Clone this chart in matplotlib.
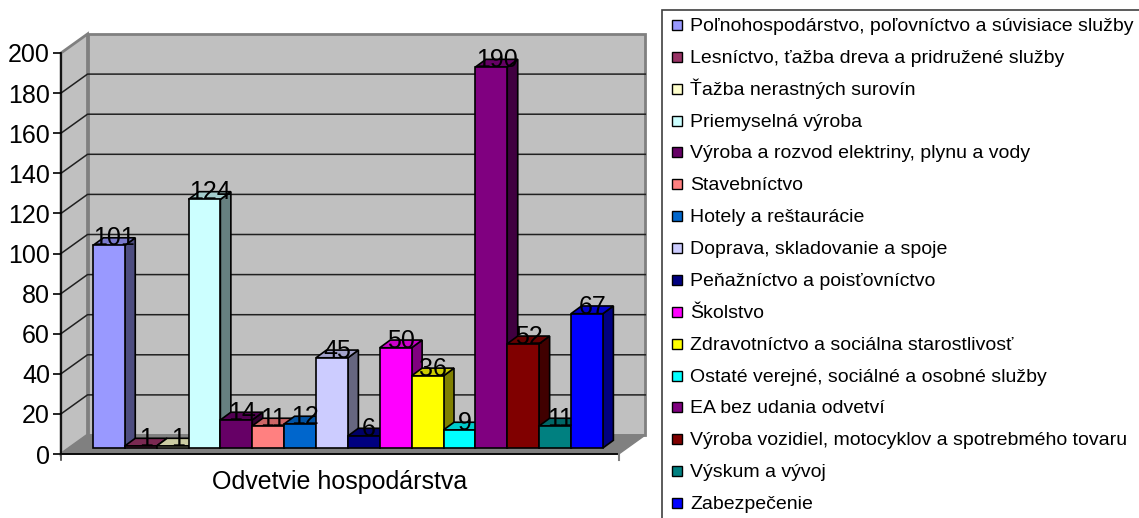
import matplotlib
matplotlib.use("Agg")
import matplotlib.pyplot as plt
from matplotlib.patches import Polygon, Rectangle
from matplotlib.colors import to_rgb

plt.rcParams['font.family'] = ['Liberation Sans', 'DejaVu Sans']

# ---- data ----
categories = [
    "Poľnohospodárstvo, poľovníctvo a súvisiace služby",
    "Lesníctvo, ťažba dreva a pridružené služby",
    "Ťažba nerastných surovín",
    "Priemyselná výroba",
    "Výroba a rozvod elektriny, plynu a vody",
    "Stavebníctvo",
    "Hotely a reštaurácie",
    "Doprava, skladovanie a spoje",
    "Peňažníctvo a poisťovníctvo",
    "Školstvo",
    "Zdravotníctvo a sociálna starostlivosť",
    "Ostaté verejné, sociálné a osobné služby",
    "EA bez udania odvetví",
    "Výroba vozidiel, motocyklov a spotrebmého tovaru",
    "Výskum a vývoj",
    "Zabezpečenie",
]
values = [101, 1, 1, 124, 14, 11, 12, 45, 6, 50, 36, 9, 190, 52, 11, 67]
colors = ["#9999FF", "#993366", "#FFFFCC", "#CCFFFF", "#660066", "#FF8080",
          "#0066CC", "#CCCCFF", "#000080", "#FF00FF", "#FFFF00", "#00FFFF",
          "#800080", "#800000", "#008080", "#0000FF"]
y_ticks = list(range(0, 201, 20))
x_label = "Odvetvie hospodárstva"

# ---- geometry (in data units) ----
W, H = 1139, 518
ux = 31.875      # px per category unit
uy = 2.005       # px per value unit
x0_px, y0_px = 61, 454
floor_len = 17.5
wall_dx, wall_dy = 26.5 / ux, 19 / uy
bar_base = 6 / uy
bar_dx, bar_dy = 10.5 / ux, 7.7 / uy
ymax = 200

fig = plt.figure(figsize=(W / 100, H / 100), dpi=100)
fig.patch.set_facecolor("white")
ax = fig.add_axes([0, 0, 1, 1])
ax.set_xlim(-x0_px / ux, (W - x0_px) / ux)
ax.set_ylim((y0_px - H) / uy, y0_px / uy)
ax.set_facecolor("none")

# walls & floor
wall_c, floor_c, edge_c = "#C0C0C0", "#808080", "#808080"
ax.add_patch(Polygon([(0, 0), (wall_dx, wall_dy), (wall_dx, ymax + wall_dy), (0, ymax)],
                     closed=True, facecolor=wall_c, edgecolor=edge_c, lw=2, zorder=1))
ax.add_patch(Rectangle((wall_dx, wall_dy), floor_len, ymax, facecolor=wall_c,
                       edgecolor=edge_c, lw=2, zorder=1))
ax.add_patch(Polygon([(0, 0), (floor_len, 0), (floor_len + wall_dx, wall_dy), (wall_dx, wall_dy)],
                     closed=True, facecolor=floor_c, edgecolor=edge_c, lw=1, zorder=1.5))
for t in y_ticks[1:-1]:
    ax.plot([0, wall_dx, wall_dx + floor_len], [t, t + wall_dy, t + wall_dy],
            color="#202020", lw=1.1, zorder=1.2)
ax.plot([0, floor_len], [0, 0], color="black", lw=1.3, zorder=2)
ax.plot([0, 0], [0, -6 / uy], color="#404040", lw=1.2, zorder=2)
ax.plot([floor_len, floor_len], [0, -6 / uy], color="#808080", lw=1.5, zorder=2)

# bars
def shade(c, f):
    r, g, b = to_rgb(c)
    return (r * f, g * f, b * f)

xs = [1 + i for i in range(len(values))]
for i, (x, v, c) in enumerate(zip(xs, values, colors)):
    z = 3 + i * 0.01
    top = bar_base + v
    ax.add_patch(Polygon([(x + 1, bar_base), (x + 1 + bar_dx, bar_base + bar_dy),
                          (x + 1 + bar_dx, top + bar_dy), (x + 1, top)],
                         closed=True, facecolor=shade(c, 0.5), edgecolor="black", lw=1.2, zorder=z))
    ax.add_patch(Polygon([(x, top), (x + bar_dx, top + bar_dy), (x + 1 + bar_dx, top + bar_dy),
                          (x + 1, top)],
                         closed=True, facecolor=shade(c, 0.8), edgecolor="black", lw=1.2, zorder=z))
    ax.bar(x, v, width=1, bottom=bar_base, align="edge", color=c, edgecolor="black",
           lw=1.2, zorder=z + 0.005)

for x, v in zip(xs, values):
    ax.text(x + 0.5 + bar_dx / 2, bar_base + v, str(v), ha="center", va="baseline",
            fontsize=18, color="black", zorder=10)

# y axis
for s in ["top", "right", "bottom"]:
    ax.spines[s].set_visible(False)
ax.spines["left"].set_position(("data", 0))
ax.spines["left"].set_bounds(0, ymax)
ax.spines["left"].set_color("black")
ax.spines["left"].set_linewidth(1.2)
ax.spines["left"].set_zorder(2.5)
ax.set_yticks(y_ticks)
ax.set_yticklabels([str(t) for t in y_ticks])
ax.tick_params(axis="y", direction="out", length=6, width=1.2, pad=2, labelsize=18,
               colors="black")
ax.set_xticks([])

ax.text(floor_len / 2, (y0_px - 488.5) / uy, x_label, ha="center", va="baseline",
        fontsize=18, color="black")

# legend (figure pixel positions)
def fx(px):
    return px / W

def fy(py):
    return 1 - py / H

fig.patches.append(Rectangle((fx(662), fy(H + 20)), fx(600), (H + 20 - 10) / H,
                             transform=fig.transFigure, facecolor="white",
                             edgecolor="#404040", lw=1.2, zorder=0))
for i, (lab, c) in enumerate(zip(categories, colors)):
    cy = 25 + 31.87 * i
    fig.patches.append(Rectangle((fx(672), fy(cy + 5)), fx(10), 10 / H,
                                 transform=fig.transFigure, facecolor=c,
                                 edgecolor="black", lw=1.0, zorder=5))
    fig.text(fx(690), fy(cy + 6), lab, ha="left", va="baseline", fontsize=14,
             color="black")

fig.savefig("out.png", dpi=100)
